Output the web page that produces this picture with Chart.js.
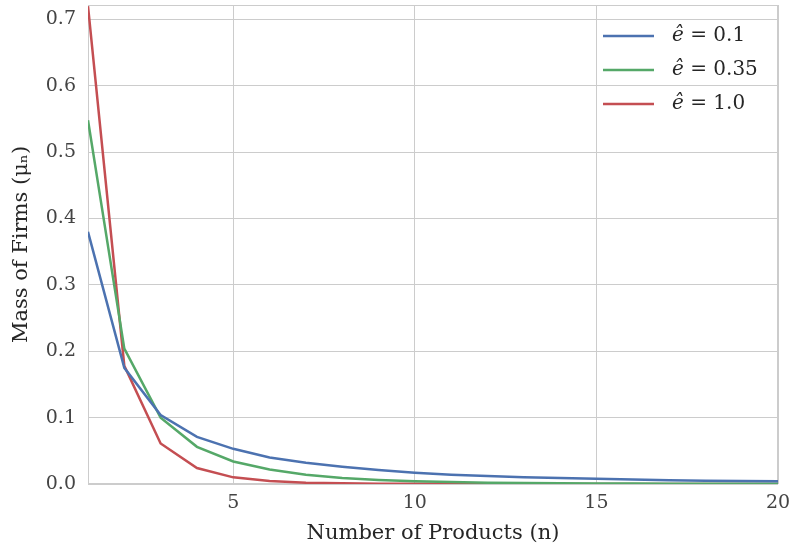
<!DOCTYPE html>
<html>
<head>
<meta charset="utf-8">
<script src="https://cdn.jsdelivr.net/npm/chart.js@4"></script>
<style>
  html, body { margin: 0; padding: 0; background: #ffffff; }
  #wrap { width: 790px; height: 550px; position: relative; }
</style>
</head>
<body>
<div id="wrap"><canvas id="massChart"></canvas></div>
<script>
// Number of products n = 1..20
const products = [1, 2, 3, 4, 5, 6, 7, 8, 9, 10, 11, 12, 13, 14, 15, 16, 17, 18, 19, 20];

// Mass of firms for each e-hat value
const massE010 = [0.380, 0.175, 0.104, 0.071, 0.053, 0.040, 0.032, 0.026, 0.021, 0.017,
                  0.014, 0.012, 0.010, 0.009, 0.0078, 0.0068, 0.0058, 0.0050, 0.0045, 0.0040];
const massE035 = [0.548, 0.204, 0.100, 0.056, 0.034, 0.022, 0.014, 0.009, 0.006, 0.004,
                  0.003, 0.002, 0.0015, 0.0011, 0.0008, 0.0006, 0.0005, 0.0004, 0.0003, 0.0002];
const massE100 = [0.720, 0.178, 0.061, 0.024, 0.010, 0.0045, 0.002, 0.001, 0.0005, 0.0003,
                  0.0002, 0.0001, 0.0001, 0.0001, 0.0, 0.0, 0.0, 0.0, 0.0, 0.0];

const seriesLabels = ['0.1', '0.35', '1.0'];
const xTicks = [5, 10, 15, 20];
const yTicks = [0.0, 0.1, 0.2, 0.3, 0.4, 0.5, 0.6, 0.7];

const FONT = "'DejaVu Serif', serif";

function toPoints(vals) {
    return vals.map((v, i) => ({ x: products[i], y: v }));
}

// frame round the plot area (seaborn whitegrid spines)
const framePlugin = {
    id: 'frame',
    beforeDatasetsDraw(chart) {
        const a = chart.chartArea, ctx = chart.ctx;
        ctx.save();
        ctx.strokeStyle = '#cccccc';
        ctx.lineWidth = 1;
        ctx.strokeRect(a.left + 0.5, a.top + 0.5, a.right - a.left - 1, a.bottom - a.top - 1);
        ctx.restore();
    }
};

// legend drawn inside the top right corner
const innerLegend = {
    id: 'innerLegend',
    afterDraw(chart) {
        const ctx = chart.ctx;
        ctx.save();
        chart.data.datasets.forEach((ds, i) => {
            const y = 36 + i * 34;
            ctx.strokeStyle = ds.borderColor;
            ctx.lineWidth = 2.5;
            ctx.beginPath();
            ctx.moveTo(603, y);
            ctx.lineTo(654, y);
            ctx.stroke();
            ctx.fillStyle = '#262626';
            ctx.textBaseline = 'middle';
            ctx.font = 'italic 20px ' + FONT;
            ctx.fillText('\u00ea', 672, y);
            const w = ctx.measureText('\u00ea').width;
            ctx.font = '20px ' + FONT;
            ctx.fillText(' = ' + seriesLabels[i], 672 + w, y);
        });
        ctx.restore();
    }
};

new Chart(document.getElementById('massChart').getContext('2d'), {
    type: 'line',
    data: {
        datasets: [{
            label: 'e = 0.1',
            data: toPoints(massE010),
            borderColor: '#4C72B0'
        }, {
            label: 'e = 0.35',
            data: toPoints(massE035),
            borderColor: '#55A868'
        }, {
            label: 'e = 1.0',
            data: toPoints(massE100),
            borderColor: '#C44E52'
        }]
    },
    options: {
        responsive: true,
        maintainAspectRatio: false,
        animation: false,
        layout: { padding: { top: 5, right: 12, left: 0, bottom: 0 } },
        elements: {
            point: { radius: 0 },
            line: { borderWidth: 2.5, tension: 0 }
        },
        plugins: {
            legend: { display: false },
            tooltip: { enabled: false }
        },
        scales: {
            x: {
                type: 'linear',
                min: 1,
                max: 20,
                afterBuildTicks: s => { s.ticks = xTicks.map(v => ({ value: v })); },
                afterFit: s => { s.height = 66; s.paddingLeft = 0; s.paddingRight = 0; },
                grid: { color: '#cccccc', drawTicks: false },
                border: { display: false },
                ticks: {
                    padding: 8,
                    color: '#444444',
                    font: { family: FONT, size: 19 },
                    callback: v => String(v)
                },
                title: {
                    display: true,
                    text: 'Number of Products (n)',
                    color: '#262626',
                    font: { family: FONT, size: 21 },
                    padding: { top: 0, bottom: 4 }
                }
            },
            y: {
                min: 0,
                max: 0.7217,
                afterBuildTicks: s => { s.ticks = yTicks.map(v => ({ value: v })); },
                afterFit: s => { s.width = 88; s.paddingTop = 0; s.paddingBottom = 0; },
                grid: { color: '#cccccc', drawTicks: false },
                border: { display: false },
                ticks: {
                    padding: 12,
                    color: '#444444',
                    font: { family: FONT, size: 19 },
                    callback: v => v.toFixed(1)
                },
                title: {
                    display: true,
                    text: 'Mass of Firms (\u03bc\u2099)',
                    color: '#262626',
                    font: { family: FONT, size: 21 },
                    padding: { top: 9, bottom: 0 }
                }
            }
        }
    },
    plugins: [framePlugin, innerLegend]
});
</script>
</body>
</html>
